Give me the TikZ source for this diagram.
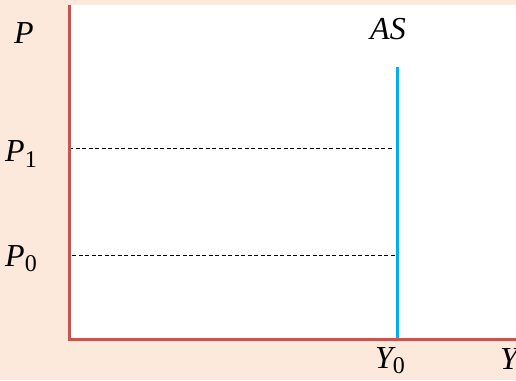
\documentclass[tikz,border=0pt]{standalone}
\usepackage{fontspec}
\setmainfont{Liberation Serif}
\definecolor{peach}{HTML}{FCE9DB}
\definecolor{axisred}{HTML}{C65450}
\definecolor{asblue}{HTML}{00B0F0}
\begin{document}
\begin{tikzpicture}[x=1pt,y=1pt,
  lab/.style={inner sep=0pt,font=\fontsize{32}{36}\selectfont\itshape},
  axis/.style={draw=axisred,line width=3pt},
  guide/.style={draw=black,dash pattern=on 4pt off 2.5pt,line width=0.9pt},
  curve/.style={draw=asblue,line width=3pt}]
\fill[peach] (0,0) rectangle (516,380);
\useasboundingbox (0,0) rectangle (516,380);
\fill[white,rounded corners=4pt] (69,41) rectangle (530,375);
\coordinate (O) at (69,41);
\coordinate (ytop) at (69,375);
\coordinate (xend) at (516,41);
\coordinate (ASbot) at (397,41);
\coordinate (AStop) at (397,313);
\coordinate (p1l) at (69,232);
\coordinate (p1r) at (392,232);
\coordinate (p0l) at (72,125);
\coordinate (p0r) at (395,125);
\draw[guide] (p1l) -- (p1r);
\draw[guide] (p0l) -- (p0r);
\draw[curve] (ASbot) -- (AStop);
\draw[axis] (ytop) -- (O) -- (xend);
\node[lab] (P) at (24,347) {P};
\node[lab] (P1) at (21,226) {P\raisebox{-0.35ex}{\upshape\fontsize{24}{27}\selectfont 1}};
\node[lab] (P0) at (21,121) {P\raisebox{-0.35ex}{\upshape\fontsize{24}{27}\selectfont 0}};
\node[lab] (AS) at (388,351) {AS};
\node[lab] (Y0) at (390,19) {Y\raisebox{-0.35ex}{\upshape\fontsize{24}{27}\selectfont 0}};
\node[lab] (Y) at (509,21) {Y};
\end{tikzpicture}
\end{document}
